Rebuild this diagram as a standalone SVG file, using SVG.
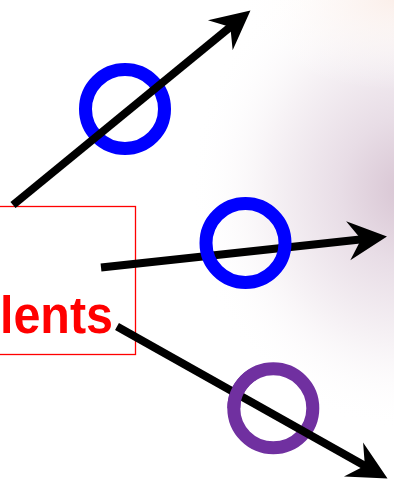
<svg xmlns="http://www.w3.org/2000/svg" width="394" height="484" viewBox="0 0 394 484">
  <defs>
    <radialGradient id="bgGlow" gradientUnits="userSpaceOnUse" cx="0" cy="0" r="1" gradientTransform="translate(405 190) scale(215 240)">
      <stop offset="0" stop-color="#D8C5D3"/>
      <stop offset="0.3" stop-color="#E8DDE6"/>
      <stop offset="0.65" stop-color="#F7F3F6"/>
      <stop offset="1" stop-color="#FFFFFF" stop-opacity="0"/>
    </radialGradient>
    <radialGradient id="bgPeach" gradientUnits="userSpaceOnUse" cx="0" cy="0" r="1" gradientTransform="translate(394 0) scale(160 90)">
      <stop offset="0" stop-color="#FBEFEA"/>
      <stop offset="1" stop-color="#FFFFFF" stop-opacity="0"/>
    </radialGradient>
    <marker id="stealth" markerUnits="userSpaceOnUse" orient="auto" refX="0" refY="0" markerWidth="60" markerHeight="60" viewBox="-30 -30 60 60" overflow="visible">
      <path d="M20,0 L-19,-19.5 L-6,0 L-19,19.5 Z" fill="#000000"/>
    </marker>
    <style>
      .conn { stroke: #000000; stroke-width: 8; fill: none; stroke-linecap: butt; marker-end: url(#stealth); }
      .ring { fill: none; stroke-width: 13; }
      .blue { stroke: #0000FF; }
      .purple { stroke: #7030A0; }
      .box { fill: none; stroke: #FF0000; stroke-width: 1.3; }
      .label { font-family: "Liberation Sans", Arial, sans-serif; font-weight: bold; font-size: 51px; fill: #FF0000; }
    </style>
  </defs>

  <g id="background">
    <rect x="0" y="0" width="394" height="484" fill="#FFFFFF"/>
    <rect x="0" y="0" width="394" height="484" fill="url(#bgGlow)"/>
    <rect x="0" y="0" width="394" height="484" fill="url(#bgPeach)"/>
  </g>

  <g id="students">
    <rect class="box" x="-5" y="206.5" width="140.5" height="148"/>
    <text class="label" x="0" y="332.5" textLength="113" lengthAdjust="spacingAndGlyphs">lents</text>
  </g>

  <g id="circle-top">
    <circle class="ring blue" cx="125" cy="109" r="39.5"/>
  </g>

  <g id="circle-bottom">
    <circle class="ring purple" cx="273.3" cy="408.3" r="39.5"/>
  </g>

  <g id="connectors">
    <line class="conn" x1="13" y1="205" x2="235" y2="23.2"/>
    <line class="conn" x1="101" y1="267.5" x2="367.1" y2="238.7"/>
    <line class="conn" x1="117" y1="326.5" x2="370.1" y2="468.7"/>
  </g>

  <g id="circle-middle">
    <circle class="ring blue" cx="245.5" cy="243" r="39.5"/>
  </g>

  <g id="circle-bottom-front">
    <path class="ring purple" d="M233.8,408.3 A39.5,39.5 0 0 1 253.55,374.1"/>
  </g>
</svg>
